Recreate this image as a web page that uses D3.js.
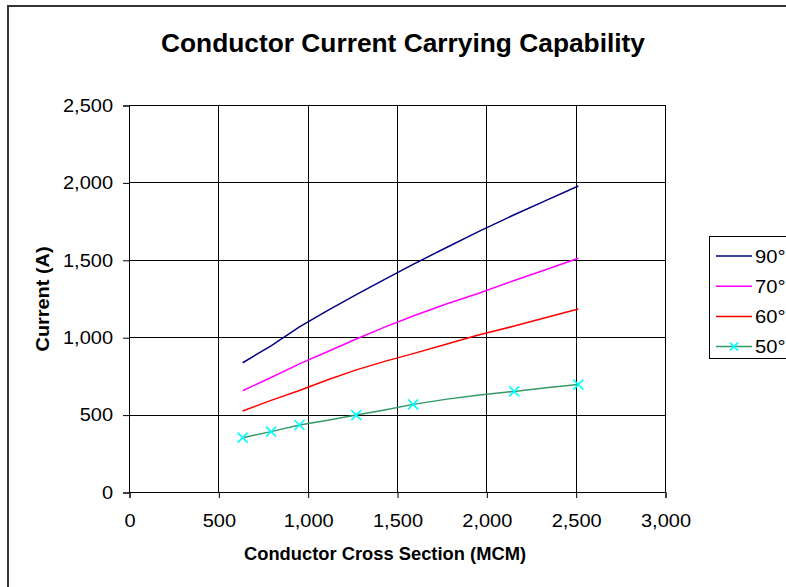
<!DOCTYPE html>
<html>
<head>
<meta charset="utf-8">
<script src="https://cdn.jsdelivr.net/npm/d3@7"></script>
<style>
  html, body { margin: 0; padding: 0; background: #fff; }
  svg { display: block; font-family: Arial, "Liberation Sans", sans-serif; }
</style>
</head>
<body>
<svg id="chart" width="786" height="587"></svg>
<script>
// Conductor cross sections (MCM) at which ampacity is given
const crossSections = [636, 795, 954, 1113, 1272, 1431, 1590, 1780, 1950, 2156, 2335, 2515];

// Ampacity (A) per conductor temperature
const amps90 = [835, 944, 1067, 1173, 1275, 1374, 1471, 1581, 1679, 1791, 1884, 1977];
const amps70 = [654, 740, 828, 908, 988, 1065, 1137, 1216, 1281, 1366, 1437, 1510];
const amps60 = [523, 592, 656, 725, 789, 844, 894, 956, 1012, 1072, 1127, 1182];
const amps50 = [351, 390, 433, 464, 497, 530, 566, 600, 625, 650, 674, 694];

// Sizes that carry a marker on the 50° curve
const markedSizes50 = [636, 795, 954, 1272, 1590, 2156, 2515];

const seriesNames = ["90°", "70°", "60°", "50°"];
const seriesColors = ["#000080", "#FF00FF", "#FF0000", "#339966"];
const markerColor = "#00FFFF";

const xTicks = [0, 500, 1000, 1500, 2000, 2500, 3000];
const yTicks = [0, 500, 1000, 1500, 2000, 2500];

const svg = d3.select("#chart");

// widen glyphs slightly, keeping the anchor
function stretch(sel, factor) {
  sel.each(function () {
    const w = this.getComputedTextLength();
    d3.select(this).attr("textLength", w * factor).attr("lengthAdjust", "spacingAndGlyphs");
  });
}

// outer chart frame
svg.append("rect")
  .attr("x", 8).attr("y", 6)
  .attr("width", 800).attr("height", 600)
  .attr("fill", "#fff")
  .attr("stroke", "#333").attr("stroke-width", 2);

const plot = { left: 129, right: 665, top: 105, bottom: 492 };

const x = d3.scaleLinear().domain([0, 3000]).range([plot.left, plot.right]);
const y = d3.scaleLinear().domain([0, 2500]).range([plot.bottom, plot.top]);

const fmt = d3.format(",");

// gridlines
const grid = svg.append("g").attr("stroke", "#000").attr("stroke-width", 1).attr("shape-rendering", "crispEdges");
grid.selectAll("line.h").data(yTicks).join("line")
  .attr("x1", plot.left).attr("x2", plot.right)
  .attr("y1", d => Math.round(y(d)) + 0.5).attr("y2", d => Math.round(y(d)) + 0.5);
grid.selectAll("line.v").data(xTicks).join("line")
  .attr("y1", plot.top).attr("y2", plot.bottom)
  .attr("x1", d => Math.round(x(d)) + 0.5).attr("x2", d => Math.round(x(d)) + 0.5);

// axes
const xAxis = d3.axisBottom(x).tickValues(xTicks).tickFormat(fmt).tickSize(6).tickPadding(16);
const yAxis = d3.axisLeft(y).tickValues(yTicks).tickFormat(fmt).tickSize(6).tickPadding(10);

const gx = svg.append("g").attr("transform", `translate(0.5,${plot.bottom})`).call(xAxis);
const gy = svg.append("g").attr("transform", `translate(${plot.left},0.5)`).call(yAxis);
[gx, gy].forEach(g => {
  g.select(".domain").attr("stroke", "#000");
  g.selectAll(".tick line").attr("stroke", "#000");
  g.selectAll("text").attr("font-size", 18).attr("fill", "#000")
    .attr("font-family", "Arial, 'Liberation Sans', sans-serif");
  stretch(g.selectAll("text"), 1.11);
});

// curves
const seriesValues = [amps90, amps70, amps60, amps50];
const line = d3.line().x(d => x(d[0])).y(d => y(d[1]));
seriesValues.forEach((vals, i) => {
  svg.append("path")
    .datum(crossSections.map((c, j) => [c, vals[j]]))
    .attr("d", line)
    .attr("fill", "none")
    .attr("stroke", seriesColors[i])
    .attr("stroke-width", 1.5);
});

// x markers on the 50° curve
function cross(g, cx, cy, r) {
  g.append("path")
    .attr("d", `M${cx - r},${cy - r}L${cx + r},${cy + r}M${cx - r},${cy + r}L${cx + r},${cy - r}`)
    .attr("stroke", markerColor).attr("stroke-width", 1.6).attr("fill", "none");
}
const markers = svg.append("g");
markedSizes50.forEach(s => {
  const v = amps50[crossSections.indexOf(s)];
  cross(markers, x(s), y(v), 5);
});

// titles
svg.append("text")
  .attr("x", 403).attr("y", 52)
  .attr("text-anchor", "middle")
  .attr("font-size", 26).attr("font-weight", "bold")
  .attr("textLength", 484).attr("lengthAdjust", "spacingAndGlyphs")
  .text("Conductor Current Carrying Capability");

svg.append("text")
  .attr("x", 385).attr("y", 560)
  .attr("text-anchor", "middle")
  .attr("font-size", 18).attr("font-weight", "bold")
  .attr("textLength", 282).attr("lengthAdjust", "spacingAndGlyphs")
  .text("Conductor Cross Section (MCM)");

svg.append("text")
  .attr("transform", "translate(49,299) rotate(-90)")
  .attr("text-anchor", "middle")
  .attr("font-size", 18).attr("font-weight", "bold")
  .attr("textLength", 105).attr("lengthAdjust", "spacingAndGlyphs")
  .text("Current (A)");

// legend
const legend = svg.append("g");
legend.append("rect")
  .attr("x", 709.5).attr("y", 236.5)
  .attr("width", 100).attr("height", 122)
  .attr("fill", "#fff").attr("stroke", "#000").attr("stroke-width", 1);
seriesNames.forEach((name, i) => {
  const cy = 256 + i * 30.2;
  legend.append("line")
    .attr("x1", 716).attr("x2", 752)
    .attr("y1", cy).attr("y2", cy)
    .attr("stroke", seriesColors[i]).attr("stroke-width", 1.5);
  if (i === 3) cross(legend, 734, cy, 4);
  const t = legend.append("text")
    .attr("x", 755).attr("y", cy + 6.5)
    .attr("font-size", 18)
    .text(name);
  stretch(t, 1.12);
});
</script>
</body>
</html>
